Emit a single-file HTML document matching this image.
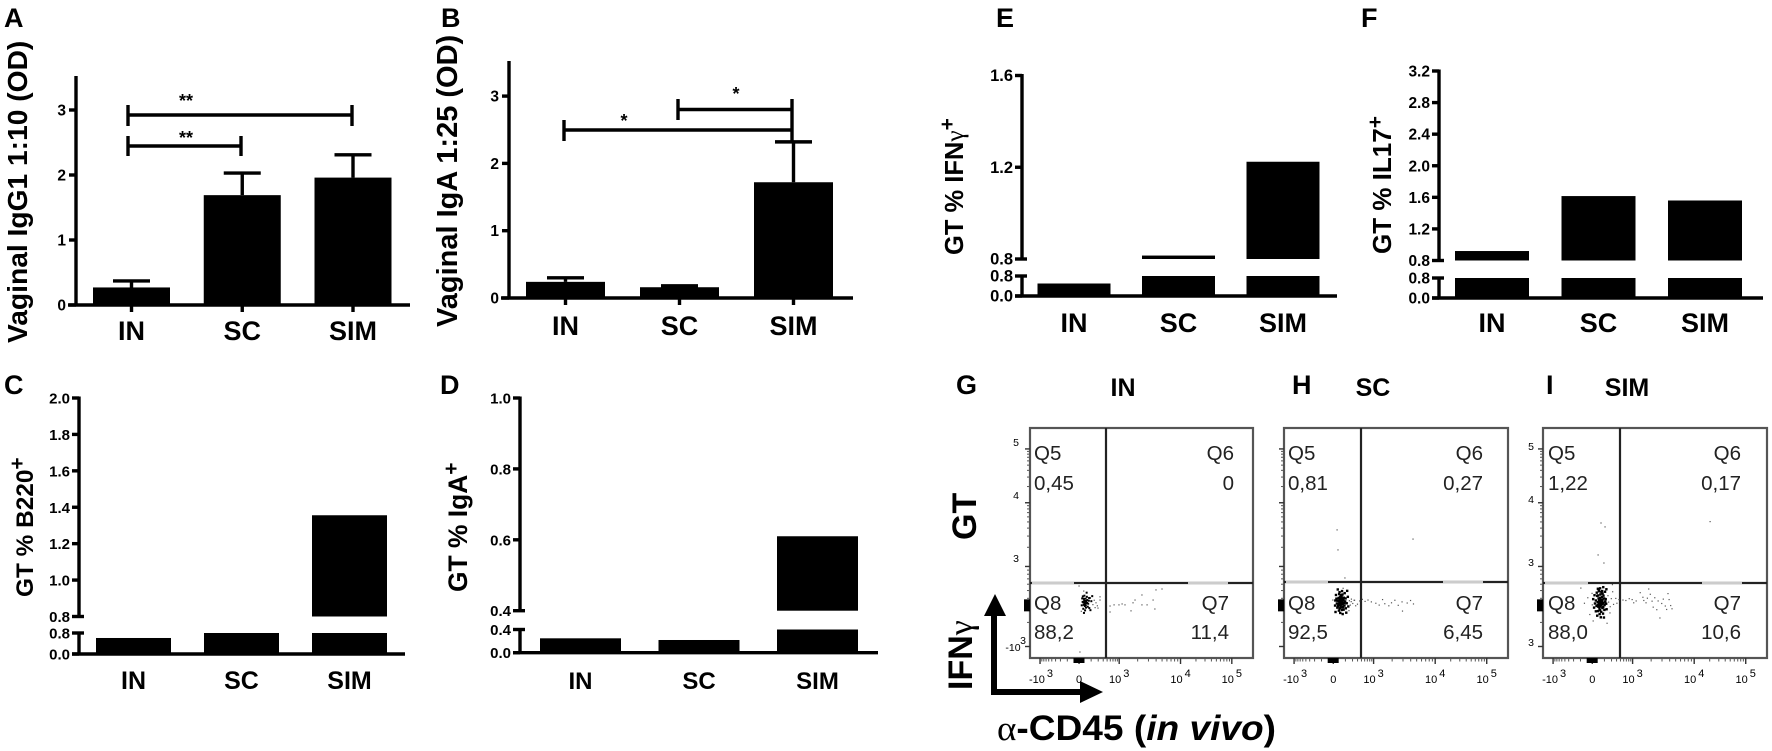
<!DOCTYPE html>
<html lang="en">
<head>
<meta charset="utf-8">
<title>Vaginal antibody and genital tract cell panels</title>
<style>
  html, body { margin: 0; padding: 0; background: #fff; }
  svg { display: block; }
  text { font-family: "Liberation Sans", sans-serif; fill: #000; }
  .letter { font-size: 27px; font-weight: 700; }
  .title { font-weight: 700; }
  .q { font-size: 20.5px; fill: #222; }
  .q-end { font-size: 20.5px; fill: #222; text-anchor: end; }
  .head { font-size: 25px; font-weight: 700; text-anchor: middle; }
  .star { font-size: 18px; font-weight: 700; text-anchor: middle; }
</style>
</head>
<body>
<svg id="figure" xmlns="http://www.w3.org/2000/svg" width="1772" height="751" viewBox="0 0 1772 751">
  <rect width="1772" height="751" fill="#fff"/>

  <text class="letter" x="4" y="27">A</text>
  <text class="letter" x="441" y="27">B</text>
  <text class="letter" x="4" y="394">C</text>
  <text class="letter" x="440" y="394">D</text>
  <text class="letter" x="996" y="27">E</text>
  <text class="letter" x="1361" y="27">F</text>
  <text class="letter" x="956" y="394">G</text>
  <text class="letter" x="1292" y="394">H</text>
  <text class="letter" x="1546" y="394">I</text>

  <text class="title" font-size="28.2" transform="translate(27,343) rotate(-90)">Vaginal IgG1 1:10 (OD)</text>
  <text class="title" font-size="29" transform="translate(457,327) rotate(-90)">Vaginal IgA 1:25 (OD)</text>
  <text class="title" font-size="24.4" transform="translate(33,597) rotate(-90)">GT % B220<tspan font-size="21" dy="-9">+</tspan></text>
  <text class="title" font-size="26.4" transform="translate(467,592) rotate(-90)">GT % IgA<tspan font-size="21" dy="-9">+</tspan></text>
  <text class="title" font-size="25.5" transform="translate(963,255) rotate(-90)">GT % IFN<tspan font-family="Liberation Serif" font-weight="400">γ</tspan><tspan font-size="21" dy="-9">+</tspan></text>
  <text class="title" font-size="26" transform="translate(1391,254) rotate(-90)">GT % IL17<tspan font-size="21" dy="-9">+</tspan></text>

  <g stroke="#000" stroke-width="3.4" fill="none">
    <path d="M128 115H352M128 105V126M352 105V126"/>
    <path d="M128 146H241M128 136V156M241 136V156"/>
  </g>
  <text class="star" x="186" y="107">**</text>
  <text class="star" x="186" y="144">**</text>

  <g stroke="#000" stroke-width="3.4" fill="none">
    <path d="M564 130H792M564 120V141"/>
    <path d="M678 109.5H792M678 99V120M792 99V143"/>
  </g>
  <text class="star" x="624" y="127">*</text>
  <text class="star" x="736" y="100">*</text>

  <text class="head" x="1123" y="396">IN</text>
  <text class="head" x="1373" y="396">SC</text>
  <text class="head" x="1627" y="396">SIM</text>

  <text class="title" font-size="34" transform="translate(976,540) rotate(-90)">GT</text>
  <text class="title" font-size="34" transform="translate(972,690) rotate(-90)">IFN<tspan font-family="Liberation Serif" font-weight="400">γ</tspan></text>
  <path d="M994 695V610" stroke="#000" stroke-width="6" fill="none"/>
  <path d="M984 616L995 594L1006 616Z" fill="#000"/>
  <path d="M991 692H1086" stroke="#000" stroke-width="6" fill="none"/>
  <path d="M1080 681L1103 692L1080 703Z" fill="#000"/>
  <text class="title" x="997" y="740" font-size="35" textLength="279" lengthAdjust="spacingAndGlyphs"><tspan font-family="Liberation Serif" font-weight="400">α</tspan>-CD45 (<tspan font-style="italic">in vivo</tspan>)</text>

  <g>
    <text class="q" x="1034" y="460">Q5</text>
    <text class="q" x="1034" y="490">0,45</text>
    <text class="q-end" x="1234" y="460">Q6</text>
    <text class="q-end" x="1234" y="490">0</text>
    <text class="q" x="1034" y="610">Q8</text>
    <text class="q" x="1034" y="639">88,2</text>
    <text class="q-end" x="1229" y="610">Q7</text>
    <text class="q-end" x="1229" y="639">11,4</text>
  </g>
  <g>
    <text class="q" x="1288" y="460">Q5</text>
    <text class="q" x="1288" y="490">0,81</text>
    <text class="q-end" x="1483" y="460">Q6</text>
    <text class="q-end" x="1483" y="490">0,27</text>
    <text class="q" x="1288" y="610">Q8</text>
    <text class="q" x="1288" y="639">92,5</text>
    <text class="q-end" x="1483" y="610">Q7</text>
    <text class="q-end" x="1483" y="639">6,45</text>
  </g>
  <g>
    <text class="q" x="1548" y="460">Q5</text>
    <text class="q" x="1548" y="490">1,22</text>
    <text class="q-end" x="1741" y="460">Q6</text>
    <text class="q-end" x="1741" y="490">0,17</text>
    <text class="q" x="1548" y="610">Q8</text>
    <text class="q" x="1548" y="639">88,0</text>
    <text class="q-end" x="1741" y="610">Q7</text>
    <text class="q-end" x="1741" y="639">10,6</text>
  </g>
</svg>

<script>
// ---- chart data ----
const categories = ['IN', 'SC', 'SIM'];

const panelAValues = [0.27, 1.69, 1.96];
const panelAErrorTops = [0.37, 2.03, 2.31];
const panelATicks = ['0', '1', '2', '3'];

const panelBValues = [0.24, 0.16, 1.72];
const panelBErrorTops = [0.30, 0.18, 2.32];
const panelBTicks = ['0', '1', '2', '3'];

const panelCValues = [0.61, 0.8, 1.356];
const panelCLowerTicks = ['0.0', '0.8'];
const panelCUpperTicks = ['0.8', '1.0', '1.2', '1.4', '1.6', '1.8', '2.0'];

const panelDValues = [0.248, 0.219, 0.61];
const panelDLowerTicks = ['0.0', '0.4'];
const panelDUpperTicks = ['0.4', '0.6', '0.8', '1.0'];

const panelEValues = [0.5, 0.815, 1.224];
const panelELowerTicks = ['0.0', '0.8'];
const panelEUpperTicks = ['0.8', '1.2', '1.6'];

const panelFValues = [0.92, 1.616, 1.56];
const panelFLowerTicks = ['0.0', '0.8'];
const panelFUpperTicks = ['0.8', '1.2', '1.6', '2.0', '2.4', '2.8', '3.2'];

// flow cytometry events: percent of plot width, percent of plot height from top
const flowGEvents = [
[24.2,74.3],[24.9,75.2],[25.3,76.1],[24.1,76.9],[23.6,75.6],[25.7,74.8],[24.6,77.4],[25.1,78.1],[23.9,78.6],[26.1,76.4],
[24.4,72.9],[25.5,73.4],[23.4,74.1],[26.4,75.1],[24.7,79.3],[25.9,77.7],[23.2,77.1],[24.8,75.9],[24.3,75.1],[25.2,75.4],
[24.5,76.5],[25,77],[24,75.9],[25.6,76],[24.9,74.2],[23.7,73.2],[26.8,73.9],[26.6,78.3],[24.2,80.4],[25.4,71.6],
[24.1,70.9],[27.5,75.3],[28.2,76.8],[27.9,73.1],[28.8,74.9],[29.2,78.1],[27.1,79.2],[30.2,77.3],[31.4,73.4],[23,79.7],
[35.9,77.4],[37.7,76.9],[39.9,76.9],[41.3,76.5],[42.6,76.9],[45.3,79.5],[46.2,76],[47.1,74.8],[50.2,76.9],[52.5,76.9],
[55.2,74.8],[56,78.7],[50.2,72.6],[56.5,70.4],[59.2,70],[29.6,76],[30.5,78.3],[31.4,74.8],[26.5,73.9],[22,68.7],[35.9,80],[22.4,97.4]
];
const flowHEvents = [
[25.2,75.1],[25.8,75.6],[24.9,76.2],[26.2,76.8],[25.4,74.4],[24.6,75.3],[26.6,75],[25.1,77.1],[24.3,76.6],[25.9,74.2],
[26.9,76.1],[25.5,75.9],[24.8,74.7],[26.3,74.3],[25,73.6],[25.7,73.2],[24.4,73.9],[26.7,73.8],[27.3,75.4],[23.9,75.1],
[24.1,77.4],[25.6,78],[26.4,77.9],[24.9,78.4],[27,77.2],[23.6,76.3],[25.3,72.7],[26.1,72.4],[24.6,72.2],[27.5,74.1],
[28,76.2],[23.4,74.2],[23.8,78.1],[25.8,79.1],[24.5,79.4],[26.6,79],[27.6,78.4],[25.1,80.4],[26.2,80.9],[24.8,71.4],
[25.9,70.9],[27.1,71.8],[23.2,72.6],[28.5,73.4],[28.7,77.6],[22.8,77.2],[22.9,75],[29.2,75.1],[29.6,77],[30.1,74.4],
[25.4,76.4],[25.1,75.4],[25.6,74.9],[26,75.8],[24.7,76],[25.3,77.6],[26.1,76],[24.4,75],[25.7,76.6],[25.2,74],
[30.7,76.3],[31.3,74.9],[32,77.3],[23,80],[27.8,80.3],[28.2,70.8],[24,70.2],[26.4,69.7],[21.8,74.8],[29,79.4],
[35,74.5],[36.2,75.4],[37.5,74.8],[39,75.6],[41,76.2],[42.5,77],[44,74.6],[45,76.4],[46.8,77.3],[48,76],
[49.5,74.9],[51,77.1],[52.7,75.6],[52.9,79.6],[55,76.1],[56.5,75],[57.8,76.5],[30,75.5],[31.5,74.9],[32.8,76.6],[33.8,75.2],
[23.7,44.3],[24.1,53],[27.2,65.2],[57.6,48.3]
];
const flowIEvents = [
[25.4,75.3],[26,76],[25,76.8],[26.6,74.6],[24.4,75.6],[27.1,75.9],[25.7,77.6],[24.8,74.1],[26.3,73.5],[27.5,77],
[23.9,77.4],[25.2,78.5],[26.5,78.3],[24.2,73],[25.6,72.4],[27,72.9],[23.6,75],[28,74.4],[28.2,76.4],[23.2,76.3],
[24.6,79.6],[26,79.9],[27.4,79.1],[25.1,71],[26.4,70.9],[24,71.6],[27.7,71.2],[23,72.7],[29,72.9],[29.3,75.7],
[22.8,78.1],[23.6,79.7],[25.3,80.9],[26.8,80.7],[28.4,78.8],[25.5,69.7],[26.9,69.2],[24.5,69.9],[28.3,70.1],[22.4,74.4],
[30,77.7],[30.5,74.2],[31.1,71.2],[21.9,71.9],[22,76.9],[24.2,81.6],[25.8,82.3],[27.2,82.4],[25.6,74.9],[26.1,74.8],
[25.9,75.4],[25.1,75],[24.9,75.9],[25.7,76.4],[26.4,76.7],[25.3,76.2],[26.9,76.2],[24.4,76.9],[25.9,77.1],[24.7,77.7],
[26.3,75.4],[25.5,73.9],[24.6,72.8],[26.6,72],[26.1,71.4],[24.9,70.6],[27.3,74.1],[27.8,75.4],[26.9,77.9],[25.4,79.2],
[31.5,76.7],[32.5,74.1],[29.9,80.4],[20,73.8],[18.5,76.2],[16.9,69.6],[22.4,83.9],[20.9,81.1],[31,68.1],[28.6,84.9],
[35.7,74.8],[37,75],[38.5,74.2],[39.8,74.6],[40.5,76],[41.6,75.2],[43.4,71.6],[44.6,73.6],[45,75],[46,76],
[46.6,74],[47.2,70],[47.9,72.3],[48.7,75.3],[49.2,77.9],[49.9,73.8],[50.8,79],[51.4,75.2],[52.2,82.6],[53,76.3],
[53.7,74.4],[54.6,77.4],[55.2,78.9],[55.8,72],[56.3,74.6],[57,77.2],[57.6,78.6],[33.9,74.6],[33,76.2],
[25.9,41.3],[27.7,43],[24.6,55.2],[27.2,58.7],[74.6,40.7]
];
const flowXAxisLabels = ['-10', '0', '10', '10', '10'];
const flowXAxisExponents = ['3', '', '3', '4', '5'];

// ---- helpers ----
const svgNS = 'http://www.w3.org/2000/svg';
const root = document.getElementById('figure');
const axisStroke = 3.4;

function makeNode(tag, attrs, name, parent) {
  const node = document.createElementNS(svgNS, tag);
  for (const key in attrs) node.setAttribute(key, attrs[key]);
  
  
  (parent || root).appendChild(node);
  return node;
}

function makeText(content, attrs, name, parent) {
  const node = makeNode('text', attrs, name, parent);
  node.textContent = content;
  return node;
}

function bandCenter(layout, i) {
  return layout.firstCenter + i * layout.step;
}

// ---- simple continuous-axis bar panel (A, B) ----
function drawContinuousPanel(key, values, errorTops, ticks, layout) {
  const g = makeNode('g', {}, 'bar-chart-' + key);
  const yScale = v => layout.base - v * layout.unit;

  categories.forEach((cat, i) => {
    const cx = bandCenter(layout, i);
    const top = yScale(values[i]);
    makeNode('rect', { x: cx - layout.barWidth / 2, y: top, width: layout.barWidth, height: layout.base - top, fill: '#000' }, 'bar-' + key + '-' + cat.toLowerCase(), g);
    const errTop = yScale(errorTops[i]);
    makeNode('path', { d: 'M' + cx + ' ' + top + 'V' + errTop + 'M' + (cx - 18.5) + ' ' + errTop + 'H' + (cx + 18.5), stroke: '#000', 'stroke-width': axisStroke, fill: 'none' }, 'error-bar-' + key + '-' + cat.toLowerCase(), g);
    makeNode('line', { x1: cx, x2: cx, y1: layout.base, y2: layout.base + 7, stroke: '#000', 'stroke-width': axisStroke }, 'x-tick-' + key + '-' + cat.toLowerCase(), g);
    makeText(cat, { x: cx, y: layout.labelY, 'font-size': layout.labelSize, 'font-weight': 700, 'text-anchor': 'middle' }, 'x-label-' + key + '-' + cat.toLowerCase(), g);
  });

  makeNode('line', { x1: layout.axisX, x2: layout.axisX, y1: layout.axisTop, y2: layout.base + 1.5, stroke: '#000', 'stroke-width': axisStroke }, 'y-axis-' + key, g);
  makeNode('line', { x1: layout.axisX - 8, x2: layout.axisEnd, y1: layout.base, y2: layout.base, stroke: '#000', 'stroke-width': axisStroke }, 'x-axis-' + key, g);

  ticks.forEach(label => {
    const y = yScale(parseFloat(label));
    makeNode('line', { x1: layout.axisX - 7, x2: layout.axisX, y1: y, y2: y, stroke: '#000', 'stroke-width': axisStroke }, 'y-tick-' + key + '-' + label, g);
    makeText(label, { x: layout.axisX - 10, y: y + 5.5, 'font-size': 15.5, 'font-weight': 700, 'text-anchor': 'end' }, 'y-tick-label-' + key + '-' + label, g);
  });
}

// ---- broken-axis bar panel (C, D, E, F) ----
function drawBrokenPanel(key, values, lowerTicks, upperTicks, layout) {
  const g = makeNode('g', {}, 'bar-chart-' + key);
  const breakValue = parseFloat(lowerTicks[lowerTicks.length - 1]);
  const maxValue = parseFloat(upperTicks[upperTicks.length - 1]);
  const yLower = v => layout.base - (v / breakValue) * (layout.base - layout.lowerTop);
  const yUpper = v => layout.upperBottom - ((v - breakValue) / (maxValue - breakValue)) * (layout.upperBottom - layout.axisTop);

  categories.forEach((cat, i) => {
    const cx = bandCenter(layout, i);
    const x = cx - layout.barWidth / 2;
    const lowerValue = Math.min(values[i], breakValue);
    const lowerY = yLower(lowerValue);
    makeNode('rect', { x: x, y: lowerY, width: layout.barWidth, height: layout.base - lowerY, fill: '#000' }, 'bar-' + key + '-' + cat.toLowerCase(), g);
    if (values[i] > breakValue) {
      const upperY = yUpper(values[i]);
      makeNode('rect', { x: x, y: upperY, width: layout.barWidth, height: layout.upperBottom - upperY, fill: '#000' }, 'bar-upper-' + key + '-' + cat.toLowerCase(), g);
    }
    makeText(cat, { x: cx, y: layout.labelY, 'font-size': layout.labelSize, 'font-weight': 700, 'text-anchor': 'middle' }, 'x-label-' + key + '-' + cat.toLowerCase(), g);
  });

  makeNode('line', { x1: layout.axisX, x2: layout.axisX, y1: layout.axisTop - 1.5, y2: layout.upperBottom, stroke: '#000', 'stroke-width': axisStroke }, 'y-axis-upper-' + key, g);
  makeNode('line', { x1: layout.axisX, x2: layout.axisX, y1: layout.lowerTop, y2: layout.base, stroke: '#000', 'stroke-width': axisStroke }, 'y-axis-lower-' + key, g);
  makeNode('line', { x1: layout.axisX - 7, x2: layout.axisEnd, y1: layout.base, y2: layout.base, stroke: '#000', 'stroke-width': axisStroke }, 'x-axis-' + key, g);

  function tick(label, y, isBreak, suffix) {
    const right = isBreak ? layout.axisX + 5 : layout.axisX;
    makeNode('line', { x1: layout.axisX - 7, x2: right, y1: y, y2: y, stroke: '#000', 'stroke-width': axisStroke }, 'y-tick-' + key + '-' + suffix, g);
    makeText(label, { x: layout.axisX - 9, y: y + 5.5, 'font-size': layout.tickSize, 'font-weight': 700, 'text-anchor': 'end' }, 'y-tick-label-' + key + '-' + suffix, g);
  }
  lowerTicks.forEach((label, i) => {
    tick(label, yLower(parseFloat(label)), i === lowerTicks.length - 1, 'lower-' + label);
  });
  upperTicks.forEach((label, i) => {
    tick(label, yUpper(parseFloat(label)), i === 0, 'upper-' + label);
  });
}

// ---- flow cytometry plot ----
function drawFlowPlot(key, events, layout) {
  const g = makeNode('g', {}, 'flow-plot-' + key);
  const w = layout.right - layout.left;
  const h = layout.bottom - layout.top;
  const sx = p => layout.left + (p / 100) * w;
  const sy = p => layout.top + (p / 100) * h;

  makeNode('rect', { x: layout.left, y: layout.top, width: w, height: h, fill: 'none', stroke: '#555', 'stroke-width': 2.2 }, 'flow-frame-' + key, g);
  makeNode('line', { x1: layout.left, x2: layout.right, y1: layout.gateY, y2: layout.gateY, stroke: '#222', 'stroke-width': 2.2 }, 'flow-gate-horizontal-' + key, g);
  layout.lightGaps.forEach((gap, i) => {
    makeNode('line', { x1: gap[0], x2: gap[1], y1: layout.gateY, y2: layout.gateY, stroke: '#ccc', 'stroke-width': 2.2 }, 'flow-gate-gap-' + key + '-' + i, g);
  });
  makeNode('line', { x1: layout.gateX, x2: layout.gateX, y1: layout.top, y2: layout.bottom, stroke: '#222', 'stroke-width': 2.2 }, 'flow-gate-vertical-' + key, g);

  // y ticks
  const yMajors = [9.1, 32.5, 60.2, 95];
  yMajors.forEach((p, i) => {
    makeNode('line', { x1: layout.left - 5, x2: layout.left, y1: sy(p), y2: sy(p), stroke: '#333', 'stroke-width': 1.4 }, 'flow-y-tick-' + key + '-' + i, g);
    if (i < yMajors.length - 1) {
      for (let k = 2; k < 10; k++) {
        const q = yMajors[i + 1] + (p - yMajors[i + 1]) * Math.log10(k);
        makeNode('line', { x1: layout.left - 3, x2: layout.left, y1: sy(q), y2: sy(q), stroke: '#555', 'stroke-width': 1 }, 'flow-y-minor-tick-' + key, g);
      }
    }
  });
  makeNode('rect', { x: layout.left - 6, y: sy(74.5), width: 6, height: 12, fill: '#000' }, 'flow-y-zero-ticks-' + key, g);

  // x ticks
  const xMajors = [4.5, 22, 40, 67.5, 90.5];
  xMajors.forEach((p, i) => {
    makeNode('line', { x1: sx(p), x2: sx(p), y1: layout.bottom, y2: layout.bottom + 6, stroke: '#333', 'stroke-width': 1.4 }, 'flow-x-tick-' + key + '-' + i, g);
    if (i < xMajors.length - 1) {
      for (let k = 2; k < 10; k++) {
        const q = (i === 0 ? p + (xMajors[1] - p) * (1 - Math.log10(k)) : p + (xMajors[i + 1] - p) * Math.log10(k));
        makeNode('line', { x1: sx(q), x2: sx(q), y1: layout.bottom, y2: layout.bottom + 3.5, stroke: '#555', 'stroke-width': 1 }, 'flow-x-minor-tick-' + key, g);
      }
    }
    const label = makeText(flowXAxisLabels[i], { x: sx(p) + (i === 0 ? 1 : 0), y: 683, 'font-size': 11, 'text-anchor': 'middle', fill: '#333' }, 'flow-x-label-' + key + '-' + i, g);
    if (flowXAxisExponents[i]) {
      const sup = document.createElementNS(svgNS, 'tspan');
      sup.setAttribute('dy', '-6');
      sup.setAttribute('dx', '2');
      
      
      sup.textContent = flowXAxisExponents[i];
      label.appendChild(sup);
    }
  });
  makeNode('rect', { x: sx(19.5), y: layout.bottom, width: 11, height: 5, fill: '#000' }, 'flow-x-zero-ticks-' + key, g);

  // y-axis labels
  layout.yLabels.forEach((label, i) => {
    makeText(label[0], { x: layout.left + label[1], y: layout.top + label[2], 'font-size': 10.5, 'text-anchor': 'middle', fill: '#333' }, 'flow-y-label-' + key + '-' + i, g);
  });

  // events: the dense population draws larger and darker than the sparse scatter
  events.forEach(ev => {
    const dense = Math.abs(ev[0] - 25.5) < layout.denseX && Math.abs(ev[1] - 76) < layout.denseY;
    const size = dense ? layout.denseDot : 1.2;
    makeNode('rect', { x: sx(ev[0]) - size / 2, y: sy(ev[1]) - size / 2, width: size, height: size, fill: dense ? '#000' : '#555' }, 'flow-event-' + key, g);
  });
}

// ---- render ----
drawContinuousPanel('a', panelAValues, panelAErrorTops, panelATicks, {
  firstCenter: 131.5, step: 110.75, barWidth: 77, base: 305, unit: 65,
  axisX: 76, axisTop: 76, axisEnd: 410, labelY: 340, labelSize: 27
});
drawContinuousPanel('b', panelBValues, panelBErrorTops, panelBTicks, {
  firstCenter: 565.5, step: 114, barWidth: 79, base: 298, unit: 67.3,
  axisX: 509, axisTop: 61, axisEnd: 853, labelY: 335, labelSize: 27
});
drawBrokenPanel('c', panelCValues, panelCLowerTicks, panelCUpperTicks, {
  firstCenter: 133.5, step: 108, barWidth: 75, base: 654, lowerTop: 633, upperBottom: 616.5, axisTop: 398,
  axisX: 79, axisEnd: 405, labelY: 689, labelSize: 25, tickSize: 15
});
drawBrokenPanel('d', panelDValues, panelDLowerTicks, panelDUpperTicks, {
  firstCenter: 580.5, step: 118.5, barWidth: 81, base: 652.7, lowerTop: 629.5, upperBottom: 610.7, axisTop: 398,
  axisX: 520, axisEnd: 878, labelY: 689, labelSize: 24, tickSize: 15
});
drawBrokenPanel('e', panelEValues, panelELowerTicks, panelEUpperTicks, {
  firstCenter: 1074, step: 104.5, barWidth: 73, base: 296, lowerTop: 276, upperBottom: 259, axisTop: 75.5,
  axisX: 1022, axisEnd: 1337, labelY: 332, labelSize: 27, tickSize: 16.5
});
drawBrokenPanel('f', panelFValues, panelFLowerTicks, panelFUpperTicks, {
  firstCenter: 1492, step: 106.5, barWidth: 74, base: 298, lowerTop: 278, upperBottom: 260.5, axisTop: 71,
  axisX: 1439, axisEnd: 1763, labelY: 332, labelSize: 27, tickSize: 15.5
});

drawFlowPlot('g', flowGEvents, {
  left: 1030, right: 1253, top: 428, bottom: 658, gateX: 1106, gateY: 583,
  lightGaps: [[1032, 1074], [1188, 1228]],
  denseX: 2.5, denseY: 4.5, denseDot: 2,
  yLabels: [['5', -14, 18], ['4', -14, 71], ['3', -14, 134], ['-10', -17, 223], ['3', -7, 216]]
});
drawFlowPlot('h', flowHEvents, {
  left: 1284, right: 1508, top: 428, bottom: 658, gateX: 1361, gateY: 582,
  lightGaps: [[1286, 1328], [1443, 1483]],
  denseX: 3.5, denseY: 6, denseDot: 2.4,
  yLabels: []
});
drawFlowPlot('i', flowIEvents, {
  left: 1543, right: 1767, top: 428, bottom: 658, gateX: 1620, gateY: 583,
  lightGaps: [[1545, 1588], [1702, 1742]],
  denseX: 3.5, denseY: 7, denseDot: 2.4,
  yLabels: [['5', -12, 22], ['4', -12, 75], ['3', -12, 138], ['3', -12, 218]]
});
</script>
</body>
</html>
